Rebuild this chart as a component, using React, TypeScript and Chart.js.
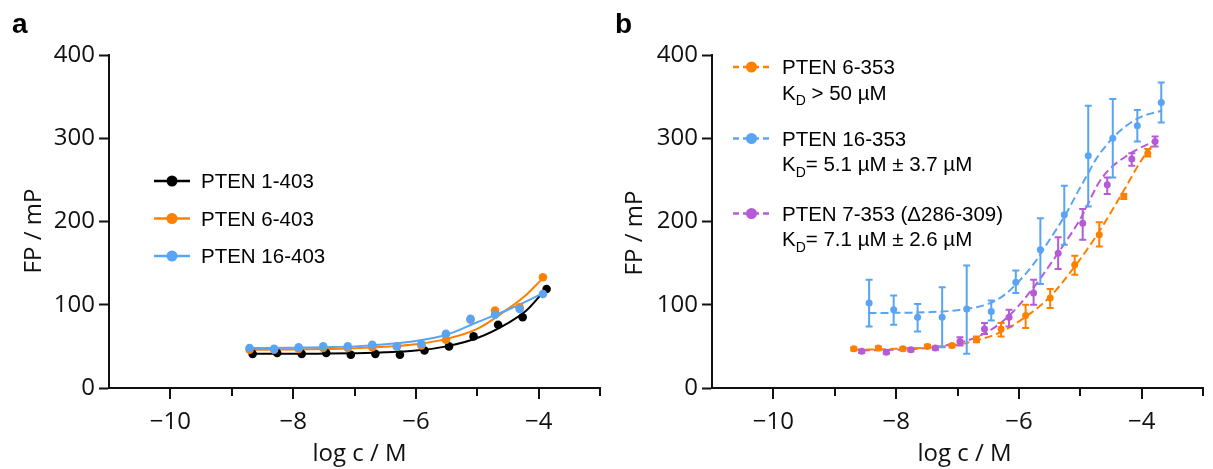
import React, { useEffect, useRef } from 'react';
import { Chart, registerables } from 'chart.js';

Chart.register(...registerables);

// ---------- Panel a data ----------
const A_BLACK_X = [-8.66, -8.26, -7.86, -7.46, -7.06, -6.66, -6.26, -5.86, -5.46, -5.06, -4.66, -4.26, -3.87];
const A_BLACK_Y = [41, 42, 41, 42, 40, 41, 40, 45, 50, 62, 76, 85, 119];
const A_ORANGE_X = [-8.71, -8.31, -7.91, -7.51, -7.11, -6.71, -6.31, -5.91, -5.51, -5.11, -4.71, -4.31, -3.93];
const A_ORANGE_Y = [46, 46, 47, 48, 48, 49, 50, 51, 58, 82, 93, 97, 133];
const A_BLUE_X = [-8.71, -8.31, -7.91, -7.51, -7.11, -6.71, -6.31, -5.91, -5.51, -5.11, -4.71, -4.31, -3.93];
const A_BLUE_Y = [48, 47, 49, 50, 50, 52, 50, 53, 65, 83, 88, 95, 113];

const A_BLACK_FIT_X = [-8.66, -8, -7.5, -7, -6.5, -6, -5.5, -5, -4.5, -4.2, -3.87];
const A_BLACK_FIT_Y = [41, 41, 41.3, 41.8, 42.8, 45, 50, 60, 78, 93, 120];
const A_ORANGE_FIT_X = [-8.71, -8, -7.5, -7, -6.5, -6, -5.5, -5, -4.5, -4.2, -3.93];
const A_ORANGE_FIT_Y = [46, 46.3, 46.8, 47.8, 49.5, 52.5, 59, 71, 95, 112, 132];
const A_BLUE_FIT_X = [-8.71, -8, -7.5, -7, -6.5, -6, -5.5, -5, -4.5, -4.2, -3.93];
const A_BLUE_FIT_Y = [48, 48.3, 49, 50, 52.5, 56.5, 64, 79, 94, 104, 114];

const A_LABELS = ['PTEN 1-403', 'PTEN 6-403', 'PTEN 16-403'];

// ---------- Panel b data ----------
const B_ORANGE_X = [-8.69, -8.29, -7.89, -7.49, -7.09, -6.69, -6.29, -5.89, -5.49, -5.09, -4.69, -4.29, -3.9];
const B_ORANGE_Y = [47, 48, 47, 50, 51, 58, 71, 87, 108, 148, 184, 230, 282];
const B_ORANGE_HI = [49, 50, 49, 52, 53, 62, 78, 100, 119, 159, 199, 233, 287];
const B_ORANGE_LO = [45, 46, 45, 48, 49, 55, 62, 72, 96, 136, 170, 227, 278];

const B_BLUE_X = [-8.44, -8.04, -7.65, -7.25, -6.85, -6.45, -6.05, -5.65, -5.26, -4.87, -4.47, -4.07, -3.68];
const B_BLUE_Y = [102, 94, 85, 85, 95, 92, 127, 166, 208, 279, 300, 315, 343];
const B_BLUE_HI = [130, 111, 101, 121, 147, 105, 141, 204, 243, 339, 347, 334, 367];
const B_BLUE_LO = [74, 76, 68, 49, 41, 81, 114, 125, 172, 218, 253, 296, 319];

const B_PURPLE_X = [-8.56, -8.16, -7.76, -7.36, -6.96, -6.56, -6.16, -5.76, -5.36, -4.96, -4.56, -4.16, -3.78];
const B_PURPLE_Y = [44, 43, 46, 48, 56, 71, 85, 114, 162, 198, 244, 275, 296];
const B_PURPLE_HI = [46, 45, 48, 50, 61, 78, 94, 130, 181, 215, 253, 282, 302];
const B_PURPLE_LO = [42, 41, 44, 46, 51, 65, 74, 100, 143, 178, 233, 267, 290];

const B_ORANGE_FIT_X = [-8.69, -8, -7.5, -7, -6.7, -6.3, -5.9, -5.5, -5.1, -4.7, -4.3, -4, -3.82];
const B_ORANGE_FIT_Y = [46, 47, 48.5, 52, 57, 67, 85, 109, 145, 187, 236, 274, 292];
const B_BLUE_FIT_X = [-8.45, -8, -7.5, -7, -6.5, -6.25, -6, -5.75, -5.5, -5.25, -5, -4.87, -4.75, -4.5, -4.25, -4, -3.68];
const B_BLUE_FIT_Y = [90, 90.3, 91, 93.5, 101, 111, 128, 150, 178, 207, 241, 258, 274, 298, 315, 326, 333];
const B_PURPLE_FIT_X = [-8.56, -8, -7.5, -7, -6.6, -6.2, -5.8, -5.4, -5.0, -4.65, -4.2, -3.78];
const B_PURPLE_FIT_Y = [45, 46, 48, 54, 64, 84, 117, 158, 203, 252, 281, 297];

const B_LABELS = ['PTEN 6-353', 'PTEN 16-353', 'PTEN 7-353 (\u0394286-309)'];
const B_KD = [' > 50 \u00B5M', '= 5.1 \u00B5M \u00B1 3.7 \u00B5M', '= 7.1 \u00B5M \u00B1 2.6 \u00B5M'];

const X_MIN = -11;
const X_MAX = -3;
const Y_MIN = 0;
const Y_MAX = 400;
const Y_STEP = 100;

// ---------- styles ----------
const BLACK = '#000000';
const ORANGE = '#FF8000';
const BLUE = '#5AA4F4';
const PURPLE = '#B65BD6';
const AXIS = '#111111';
const TICK_FONT = '"Open Sans", "Noto Sans", sans-serif';
const LEG_FONT = '"Liberation Sans", Arial, sans-serif';

const pts = (xs: number[], ys: number[]) => xs.map((x, i) => ({ x, y: ys[i] }));
const minus = (v: number) => String(v).replace('-', '\u2212');

const errorBarPlugin = {
  id: 'errorBars',
  afterDatasetsDraw(chart: any) {
    const { ctx } = chart;
    const xs = chart.scales.x;
    const ys = chart.scales.y;
    chart.data.datasets.forEach((ds: any) => {
      if (!ds.errHigh) return;
      ctx.save();
      ctx.strokeStyle = ds.borderColor;
      ctx.lineWidth = 2;
      ds.data.forEach((p: any, i: number) => {
        const px = xs.getPixelForValue(p.x);
        const yh = ys.getPixelForValue(ds.errHigh[i]);
        const yl = ys.getPixelForValue(ds.errLow[i]);
        ctx.beginPath();
        ctx.moveTo(px, yh);
        ctx.lineTo(px, yl);
        ctx.moveTo(px - 3.5, yh);
        ctx.lineTo(px + 3.5, yh);
        ctx.moveTo(px - 3.5, yl);
        ctx.lineTo(px + 3.5, yl);
        ctx.stroke();
      });
      ctx.restore();
    });
  },
};

const xTickPlugin = {
  id: 'xTicks',
  afterDraw(chart: any) {
    const { ctx, chartArea } = chart;
    const xs = chart.scales.x;
    ctx.save();
    ctx.strokeStyle = AXIS;
    ctx.lineWidth = 2;
    for (let v = X_MIN + 1; v <= X_MAX; v++) {
      const px = Math.round(xs.getPixelForValue(v));
      const len = v % 2 === 0 ? 11 : 8;
      ctx.beginPath();
      ctx.moveTo(px, chartArea.bottom);
      ctx.lineTo(px, chartArea.bottom + len);
      ctx.stroke();
    }
    ctx.restore();
  },
};

function drawAxisTitles(ctx: CanvasRenderingContext2D, chart: any, yx: number, yy: number, dx: number) {
  ctx.fillStyle = AXIS;
  ctx.font = `24px ${TICK_FONT}`;
  ctx.textAlign = 'center';
  ctx.textBaseline = 'middle';
  const ca = chart.chartArea;
  ctx.fillText('log c / M', (ca.left + ca.right) / 2 + dx, 454);
  ctx.save();
  ctx.translate(yx, yy);
  ctx.rotate(-Math.PI / 2);
  ctx.fillText('FP / mP', 0, 0);
  ctx.restore();
}

function drawLetter(ctx: CanvasRenderingContext2D, letter: string, x: number) {
  ctx.fillStyle = '#000';
  ctx.font = `bold 28px ${LEG_FONT}`;
  ctx.textAlign = 'left';
  ctx.textBaseline = 'alphabetic';
  ctx.fillText(letter, x, 33);
}

function legendMarker(ctx: CanvasRenderingContext2D, color: string, x0: number, x1: number, y: number, dashed: boolean) {
  ctx.save();
  ctx.strokeStyle = color;
  ctx.fillStyle = color;
  ctx.lineWidth = 2.5;
  if (dashed) ctx.setLineDash([6, 4]);
  ctx.beginPath();
  ctx.moveTo(x0, y);
  ctx.lineTo(x1, y);
  ctx.stroke();
  ctx.setLineDash([]);
  ctx.beginPath();
  ctx.arc((x0 + x1) / 2, y, 5.5, 0, Math.PI * 2);
  ctx.fill();
  ctx.restore();
}

const panelAText = {
  id: 'panelAText',
  afterDraw(chart: any) {
    const ctx = chart.ctx as CanvasRenderingContext2D;
    ctx.save();
    drawLetter(ctx, 'a', 12);
    drawAxisTitles(ctx, chart, 34, 231, 5);
    const colors = [BLACK, ORANGE, BLUE];
    const rows = [181, 218.5, 256];
    A_LABELS.forEach((lab, i) => {
      legendMarker(ctx, colors[i], 154, 190, rows[i], false);
      ctx.fillStyle = '#000';
      ctx.font = `20.5px ${LEG_FONT}`;
      ctx.textAlign = 'left';
      ctx.textBaseline = 'alphabetic';
      ctx.fillText(lab, 201, rows[i] + 7.2);
    });
    ctx.restore();
  },
};

const panelBText = {
  id: 'panelBText',
  afterDraw(chart: any) {
    const ctx = chart.ctx as CanvasRenderingContext2D;
    ctx.save();
    drawLetter(ctx, 'b', 5);
    drawAxisTitles(ctx, chart, 25, 233, 7);
    const colors = [ORANGE, BLUE, PURPLE];
    const rows = [67, 138.5, 213.5];
    B_LABELS.forEach((lab, i) => {
      const y = rows[i];
      legendMarker(ctx, colors[i], 123, 160, y, true);
      ctx.fillStyle = '#000';
      ctx.textAlign = 'left';
      ctx.textBaseline = 'alphabetic';
      ctx.font = `20.5px ${LEG_FONT}`;
      const tx = 172;
      ctx.fillText(lab, tx, y + 7.2);
      const base = y + 25.5 + 7.2;
      ctx.fillText('K', tx, base);
      let w = ctx.measureText('K').width;
      ctx.font = `14px ${LEG_FONT}`;
      ctx.fillText('D', tx + w, base + 5.5);
      w += ctx.measureText('D').width;
      ctx.font = `20.5px ${LEG_FONT}`;
      ctx.fillText(B_KD[i], tx + w, base);
    });
    ctx.restore();
  },
};

function scalesFor(yWidth: number) {
  return {
    x: {
      type: 'linear' as const,
      min: X_MIN,
      max: X_MAX,
      ticks: {
        stepSize: 1,
        autoSkip: false,
        maxRotation: 0,
        padding: 10,
        color: AXIS,
        font: { family: TICK_FONT, size: 24 },
        callback: (v: any) => (Number(v) % 2 === 0 && Number(v) !== X_MIN ? minus(Number(v)) : ''),
      },
      grid: { drawOnChartArea: false, drawTicks: true, tickLength: 10, tickColor: 'rgba(0,0,0,0)' },
      border: { display: true, color: AXIS, width: 2 },
      afterFit: (s: any) => {
        s.height = 81;
      },
    },
    y: {
      type: 'linear' as const,
      min: Y_MIN,
      max: Y_MAX,
      ticks: {
        stepSize: Y_STEP,
        padding: 4,
        color: AXIS,
        font: { family: TICK_FONT, size: 24 },
      },
      grid: { drawOnChartArea: false, drawTicks: true, tickLength: 10, tickColor: AXIS, tickWidth: 2 },
      border: { display: true, color: AXIS, width: 2 },
      afterFit: (s: any) => {
        s.width = yWidth;
      },
    },
  };
}

const pointDs = (xs: number[], ys: number[], color: string, r: number, extra: any = {}) => ({
  data: pts(xs, ys),
  showLine: false,
  pointRadius: r,
  pointHoverRadius: r,
  pointBackgroundColor: color,
  pointBorderWidth: 0,
  borderColor: color,
  backgroundColor: color,
  ...extra,
});

const fitDs = (xs: number[], ys: number[], color: string, dashed: boolean) => ({
  data: pts(xs, ys),
  showLine: true,
  pointRadius: 0,
  borderColor: color,
  borderWidth: 2,
  borderDash: dashed ? [8, 4] : [],
  cubicInterpolationMode: 'monotone' as const,
  fill: false,
});

function PanelA() {
  const ref = useRef<HTMLCanvasElement | null>(null);
  useEffect(() => {
    if (!ref.current) return;
    const chart = new Chart(ref.current, {
      type: 'line',
      data: {
        datasets: [
          pointDs(A_BLUE_X, A_BLUE_Y, BLUE, 4.3),
          pointDs(A_ORANGE_X, A_ORANGE_Y, ORANGE, 4.3),
          pointDs(A_BLACK_X, A_BLACK_Y, BLACK, 4.3),
          fitDs(A_BLUE_FIT_X, A_BLUE_FIT_Y, BLUE, false),
          fitDs(A_ORANGE_FIT_X, A_ORANGE_FIT_Y, ORANGE, false),
          fitDs(A_BLACK_FIT_X, A_BLACK_FIT_Y, BLACK, false),
        ] as any,
      },
      options: {
        responsive: false,
        animation: false,
        layout: { padding: { left: 0, top: 55, right: 3, bottom: 0 } },
        plugins: { legend: { display: false }, tooltip: { enabled: false } },
        scales: scalesFor(109) as any,
      },
      plugins: [xTickPlugin, panelAText],
    });
    return () => chart.destroy();
  }, []);
  return (
    <canvas
      ref={ref}
      width={610}
      height={469}
      style={{ position: 'absolute', left: 0, top: 0, width: 610, height: 469 }}
    />
  );
}

function PanelB() {
  const ref = useRef<HTMLCanvasElement | null>(null);
  useEffect(() => {
    if (!ref.current) return;
    const chart = new Chart(ref.current, {
      type: 'line',
      data: {
        datasets: [
          pointDs(B_ORANGE_X, B_ORANGE_Y, ORANGE, 3.5, { errHigh: B_ORANGE_HI, errLow: B_ORANGE_LO }),
          pointDs(B_PURPLE_X, B_PURPLE_Y, PURPLE, 3.5, { errHigh: B_PURPLE_HI, errLow: B_PURPLE_LO }),
          pointDs(B_BLUE_X, B_BLUE_Y, BLUE, 3.5, { errHigh: B_BLUE_HI, errLow: B_BLUE_LO }),
          fitDs(B_ORANGE_FIT_X, B_ORANGE_FIT_Y, ORANGE, true),
          fitDs(B_PURPLE_FIT_X, B_PURPLE_FIT_Y, PURPLE, true),
          fitDs(B_BLUE_FIT_X, B_BLUE_FIT_Y, BLUE, true),
        ] as any,
      },
      options: {
        responsive: false,
        animation: false,
        layout: { padding: { left: 0, top: 55, right: 1, bottom: 0 } },
        plugins: { legend: { display: false }, tooltip: { enabled: false } },
        scales: scalesFor(102) as any,
      },
      plugins: [errorBarPlugin, xTickPlugin, panelBText],
    });
    return () => chart.destroy();
  }, []);
  return (
    <canvas
      ref={ref}
      width={603}
      height={469}
      style={{ position: 'absolute', left: 610, top: 0, width: 603, height: 469 }}
    />
  );
}

export default function App() {
  return (
    <div
      style={{
        position: 'absolute',
        left: 0,
        top: 0,
        width: 1213,
        height: 469,
        background: '#ffffff',
        overflow: 'hidden',
      }}
    >
      <PanelA />
      <PanelB />
    </div>
  );
}
